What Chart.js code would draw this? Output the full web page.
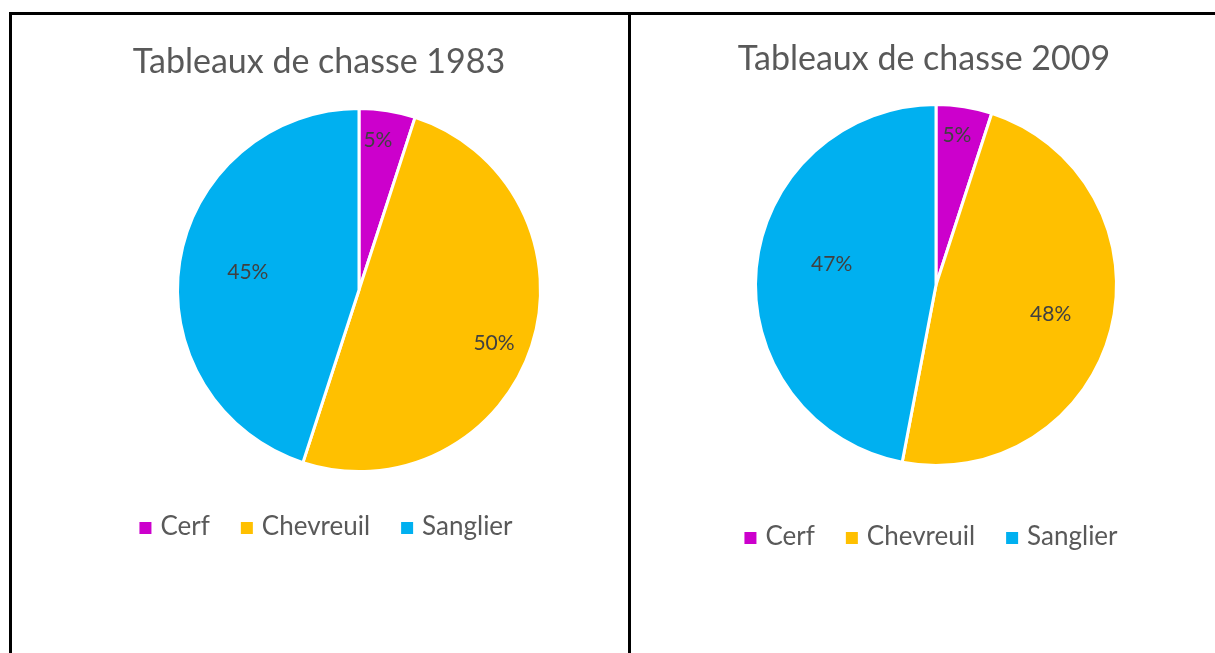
<!DOCTYPE html>
<html lang="fr">
<head>
<meta charset="UTF-8">
<title>Tableaux de chasse</title>
<script src="https://cdn.jsdelivr.net/npm/chart.js"></script>
<style>
  body { margin: 0; background: #fff; width: 1215px; height: 653px; overflow: hidden; position: relative; }
  .trait { position: absolute; background: #000; }
  .bloc { position: absolute; }
</style>
</head>
<body>
  <div class="trait" style="left:9px; top:12px; width:1206px; height:3px;"></div>
  <div class="trait" style="left:9px; top:12px; width:3px; height:641px;"></div>
  <div class="trait" style="left:628px; top:12px; width:3px; height:641px;"></div>

  <div class="bloc" style="left:12px; top:15px; width:616px; height:638px;"><canvas id="chart1983"></canvas></div>
  <div class="bloc" style="left:631px; top:15px; width:584px; height:638px;"><canvas id="chart2009"></canvas></div>

<script>
// donnees
const categories = ['Cerf', 'Chevreuil', 'Sanglier'];
const valeurs1983 = [5, 50, 45];
const valeurs2009 = [5, 48, 47];
const titre1983 = 'Tableaux de chasse 1983';
const titre2009 = 'Tableaux de chasse 2009';

const couleurs = ['#CC00CC', '#FFC000', '#00B0F0'];
const police = 'Lato, "Open Sans", sans-serif';

// titre + legende dessines a la main pour pouvoir les placer librement
const titreLegende = {
  id: 'titreLegende',
  afterDraw(chart, args, opts) {
    const ctx = chart.ctx;
    ctx.save();
    ctx.fillStyle = '#595959';
    ctx.font = '34px ' + police;
    ctx.textAlign = 'center';
    ctx.textBaseline = 'alphabetic';
    ctx.fillText(opts.texte, opts.titreX, opts.titreY);

    ctx.font = '26px ' + police;
    ctx.textAlign = 'left';
    const boite = 12, ecart = 9, entre = 31;
    const labels = chart.data.labels;
    const largeurs = labels.map(l => ctx.measureText(l).width);
    let total = 0;
    largeurs.forEach((w, i) => { total += boite + ecart + w + (i > 0 ? entre : 0); });
    let x = opts.legendeX - total / 2;
    labels.forEach((l, i) => {
      ctx.fillStyle = chart.data.datasets[0].backgroundColor[i];
      ctx.fillRect(x, opts.legendeY - 13, boite, boite);
      ctx.fillStyle = '#595959';
      ctx.fillText(l, x + boite + ecart, opts.legendeY);
      x += boite + ecart + largeurs[i] + entre;
    });
    ctx.restore();
  }
};

// pourcentages dans les parts
const etiquettes = {
  id: 'etiquettes',
  afterDatasetsDraw(chart, args, opts) {
    const ctx = chart.ctx;
    const meta = chart.getDatasetMeta(0);
    const data = chart.data.datasets[0].data;
    const somme = data.reduce((a, b) => a + b, 0);
    ctx.save();
    ctx.fillStyle = '#404040';
    ctx.font = '21px ' + police;
    ctx.textAlign = 'center';
    ctx.textBaseline = 'middle';
    meta.data.forEach((arc, i) => {
      const p = arc.getProps(['x', 'y', 'startAngle', 'endAngle', 'outerRadius'], true);
      const place = opts.places[i];
      const a = p.startAngle + place[1] * (p.endAngle - p.startAngle);
      const r = p.outerRadius * place[0];
      const txt = Math.round(data[i] / somme * 100) + '%';
      ctx.fillText(txt, p.x + Math.cos(a) * r, p.y + Math.sin(a) * r);
    });
    ctx.restore();
  }
};

function camembert(id, valeurs, titre, padding, placeTitre, placesEtiquettes) {
  return new Chart(document.getElementById(id), {
    type: 'pie',
    data: {
      labels: categories,
      datasets: [{
        data: valeurs,
        backgroundColor: couleurs,
        borderColor: '#ffffff',
        borderWidth: 3
      }]
    },
    options: {
      responsive: true,
      maintainAspectRatio: false,
      animation: false,
      layout: { padding: padding },
      plugins: {
        legend: { display: false },
        title: { display: false },
        tooltip: { enabled: false },
        titreLegende: Object.assign({ texte: titre }, placeTitre),
        etiquettes: { places: placesEtiquettes }
      }
    },
    plugins: [etiquettes, titreLegende]
  });
}

camembert('chart1983', valeurs1983, titre1983,
  { left: 164, top: 92, right: 86, bottom: 180 },
  { titreX: 307, titreY: 58, legendeX: 314, legendeY: 520 },
  [[0.83, 0.4], [0.80, 0.52], [0.62, 0.5]]);

camembert('chart2009', valeurs2009, titre2009,
  { left: 123, top: 88, right: 97, bottom: 186 },
  { titreX: 293, titreY: 55, legendeX: 300, legendeY: 530 },
  [[0.84, 0.44], [0.656, 0.5], [0.59, 0.536]]);
</script>
</body>
</html>
